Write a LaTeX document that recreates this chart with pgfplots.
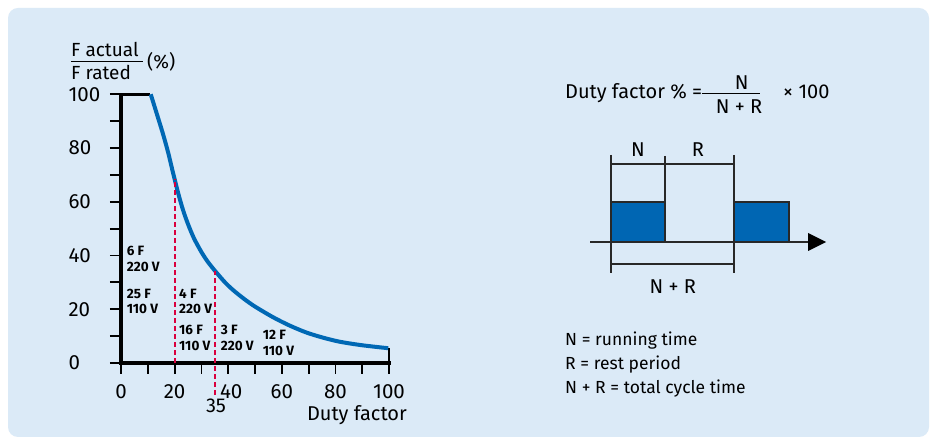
\documentclass[border=0pt]{standalone}
\usepackage{pgfplots}
\pgfplotsset{compat=1.18}
\usepackage{fontspec}
\setmainfont{Fira Sans}
\definecolor{bgblue}{RGB}{219,234,247}
\definecolor{curveblue}{RGB}{0,104,180}
\definecolor{boxblue}{RGB}{0,102,179}
\definecolor{dashred}{RGB}{218,0,62}
\definecolor{dgray}{RGB}{40,40,40}
\newcommand\fs{\fontsize{19}{22}\selectfont}
\newcommand\ft{\fontsize{20.5}{24}\selectfont}
\newcommand\fm{\fontsize{20}{24}\selectfont}
\newcommand\fl{\fontsize{17.5}{21}\selectfont}
\newcommand\fb{\fontsize{13.5}{15.7}\selectfont\bfseries}
\begin{document}
\begin{tikzpicture}[x=1pt,y=1pt]
\path[use as bounding box, fill=white] (0,0) rectangle (936,438);
\fill[bgblue, rounded corners=10pt] (8,1) rectangle (929,430);
\begin{axis}[at={(121pt,75pt)}, anchor=origin, x=2.68pt, y=2.687pt,
  xmin=0, xmax=100, ymin=0, ymax=100, clip=false,
  axis lines=left, axis line style={-, line width=3.5pt, line cap=rect},
  tick align=outside, major tick length=11pt, tick style={black, line width=1.8pt},
  xtick={0,10,...,100}, xticklabels={0,,20,,\kern6pt40,,60,,80,,100},
  ytick={0,10,...,100}, yticklabels={0,,20,,40,,60,,80,,100},
  ticklabel style={font=\ft},
  /pgf/number format/assume math mode=true,
  xticklabel style={inner sep=1pt, yshift=-9.5pt},
  yticklabel style={anchor=west, xshift=-45pt},
]
\addplot[black, line width=2.5pt] coordinates {(0,100) (11,100)};
\addplot[black, line width=2.5pt] coordinates {(100,0) (100,5.5)};
\addplot[curveblue, line width=4pt, smooth, tension=0.5] coordinates {
 (11.1,100) (13.9,91) (15.8,84.8) (17.6,78.3) (19,72.5) (20,68.5) (21,64.5)
 (22,60.8) (23,57.4) (24,54.4) (25,51.7) (26,49.2) (27,46.9) (28,44.9) (30,41.3)
 (32,38.2) (34,35.6) (36,33.2) (39,29.8) (42,27) (46,23.8) (50,21) (56.8,17)
 (63,13.9) (69.3,11.3) (75.5,9.4) (81.7,7.9) (90,6.6) (99.7,5.5)};
\addplot[dashred, line width=2pt, dash pattern=on 5pt off 3pt] coordinates {(20,0) (20,68.5)};
\addplot[dashred, line width=2pt, dash pattern=on 5pt off 3pt] coordinates {(35,-12) (35,34.2)};
\end{axis}
% y label
\node[anchor=base west, inner sep=0, font=\fs] at (71,381.3) {F actual};
\draw[line width=1pt] (71,376.3) -- (143,376.3);
\node[anchor=base west, inner sep=0, font=\fs] at (71,358) {F rated};
\node[anchor=base west, inner sep=0, font=\fs] at (147,369) {(\%)};
% x label
\node[anchor=base, inner sep=0, font=\fm] at (216,25.3) {35};
\node[anchor=base east, inner sep=0, font=\fm] at (407,17) {Duty factor};
% bold annotations
\foreach \x/\y/\a/\b in {126.7/256/6 F/220 V, 126.7/298.3/25 F/110 V, 179/298.3/4 F/220 V,
  179/335/16 F/110 V, 220.7/335/3 F/220 V, 262.7/340/12 F/110 V}{
  \node[anchor=base west, inner sep=0, font=\fb] at (\x,438-\y) {\a};
  \node[anchor=base west, inner sep=0, font=\fb] at (\x,438-\y-15.7) {\b};
}
% formula
\node[anchor=base west, inner sep=0, font=\fm] at (565,339.7) {Duty factor \% =};
\draw[line width=1pt] (702,344.7) -- (760,344.7);
\node[anchor=base, inner sep=0, font=\fm] at (741.7,348.7) {N};
\node[anchor=base, inner sep=0, font=\fm] at (739,324.7) {N + R};
\node[anchor=base west, inner sep=0, font=\fm] at (783,339.7) {× 100};
% diagram
\fill[boxblue, draw=dgray, line width=1.5pt] (611,196) rectangle (665,236);
\fill[boxblue, draw=dgray, line width=1.5pt] (734,196) rectangle (789,236);
\draw[dgray, line width=1.5pt] (590,196) -- (810,196);
\fill[black] (808,205) -- (826,196) -- (808,187) -- cycle;
\draw[dgray, line width=1.3pt] (611,283) -- (611,165);
\draw[dgray, line width=1.3pt] (665,282) -- (665,236);
\draw[dgray, line width=1.3pt] (734,283) -- (734,165);
\draw[dgray, line width=1.3pt] (611,274) -- (734,274);
\draw[dgray, line width=1.3pt] (611,174) -- (734,174);
\node[anchor=base, inner sep=0, font=\fm] at (638,281.3) {N};
\node[anchor=base, inner sep=0, font=\fm] at (698,281.3) {R};
\node[anchor=base, inner sep=0, font=\fm] at (672.7,144.7) {N + R};
% legend
\node[anchor=base west, inner sep=0, font=\fl] at (565,92) {N = running time};
\node[anchor=base west, inner sep=0, font=\fl] at (565,68) {R = rest period};
\node[anchor=base west, inner sep=0, font=\fl] at (565,44.7) {N + R = total cycle time};
\end{tikzpicture}
\end{document}
